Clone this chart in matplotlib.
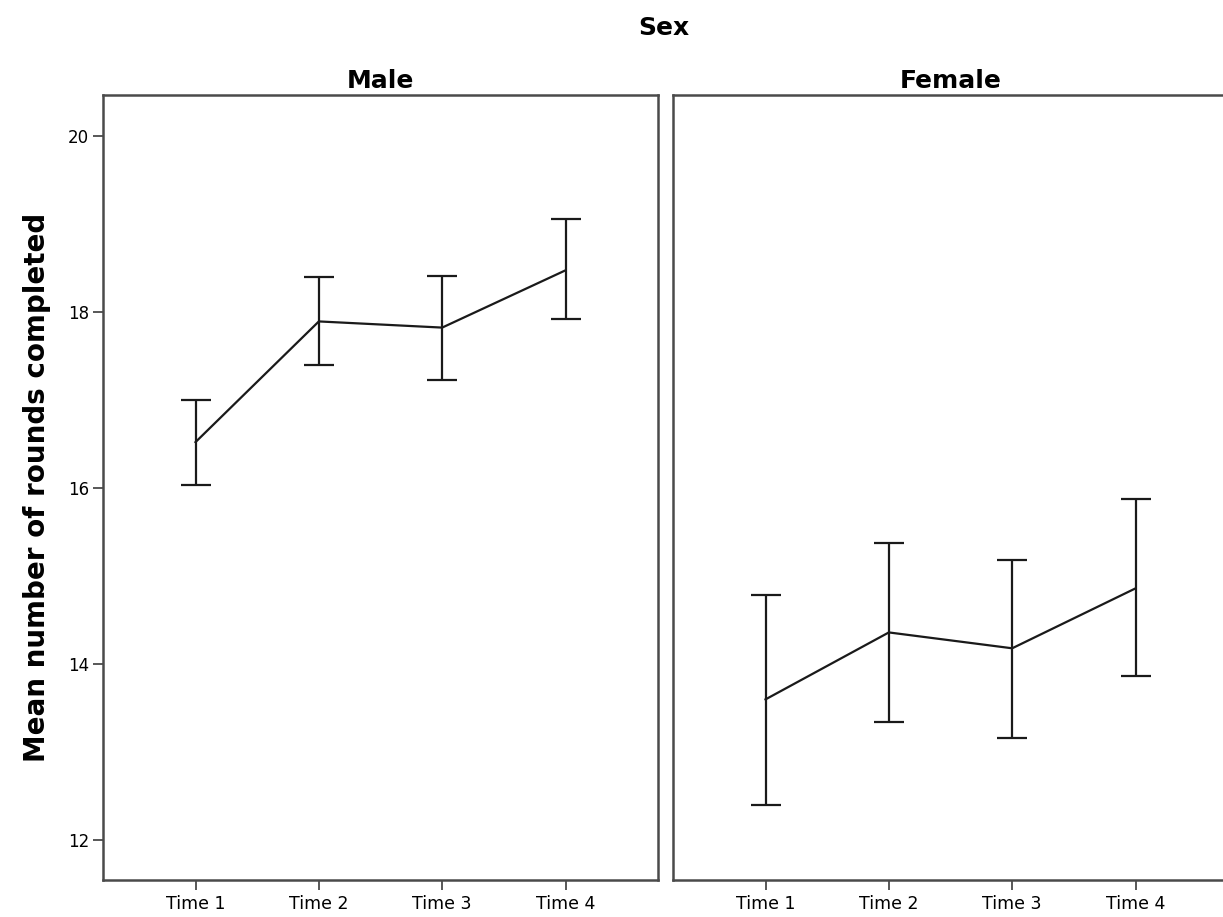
import matplotlib
matplotlib.use("Agg")
import matplotlib.pyplot as plt
import numpy as np

times = ["Time 1", "Time 2", "Time 3", "Time 4"]
male_mean = [16.52, 17.89, 17.82, 18.47]
male_low = [16.03, 17.40, 17.23, 17.92]
male_high = [17.00, 18.39, 18.41, 19.05]
female_mean = [13.60, 14.36, 14.18, 14.86]
female_low = [12.40, 13.34, 13.16, 13.86]
female_high = [14.78, 15.38, 15.18, 15.88]
panels = ["Male", "Female"]
y_ticks = [12, 14, 16, 18, 20]

plt.rcParams['font.family'] = ['DejaVu Sans']
W, H = 1223, 917
fig = plt.figure(figsize=(W / 100, H / 100), dpi=100)

def ax_rect(x0, x1, y0, y1):
    return [x0 / W, 1 - y1 / H, (x1 - x0) / W, (y1 - y0) / H]

ax1 = fig.add_axes(ax_rect(103, 658, 95, 880))
ax2 = fig.add_axes(ax_rect(673, 1228, 95, 880))

data = [(male_mean, male_low, male_high), (female_mean, female_low, female_high)]
spine_col = "#4a4a4a"
for ax, name, (m, lo, hi) in zip([ax1, ax2], panels, data):
    x = np.arange(1, len(times) + 1)
    m = np.array(m); lo = np.array(lo); hi = np.array(hi)
    ax.errorbar(x, m, yerr=[m - lo, hi - m], color="#1a1a1a", lw=1.6,
                elinewidth=1.6, capsize=11, capthick=1.6)
    ax.set_xlim(0.25, 4.75)
    ax.set_ylim(11.55, 20.46)
    ax.set_xticks(x)
    ax.set_xticklabels(times, fontsize=12.5)
    for s in ax.spines.values():
        s.set_color(spine_col)
        s.set_linewidth(1.8)
    ax.tick_params(axis="x", direction="out", length=7, width=1.3,
                   color=spine_col, pad=4)
    ax.set_title(name, fontsize=18, fontweight="bold", pad=5)

ax1.set_yticks(y_ticks)
ax1.set_yticklabels([str(v) for v in y_ticks], fontsize=12)
ax1.tick_params(axis="y", direction="out", length=7, width=1.3,
                color=spine_col, pad=3)
ax2.set_yticks([])
ax1.set_ylabel("Mean number of rounds completed", fontsize=20,
               fontweight="bold", labelpad=12)

fig.text(664 / W, 1 - 28 / H, "Sex", fontsize=18, fontweight="bold",
         ha="center", va="center")

fig.savefig("out.png", dpi=100, facecolor="white")
